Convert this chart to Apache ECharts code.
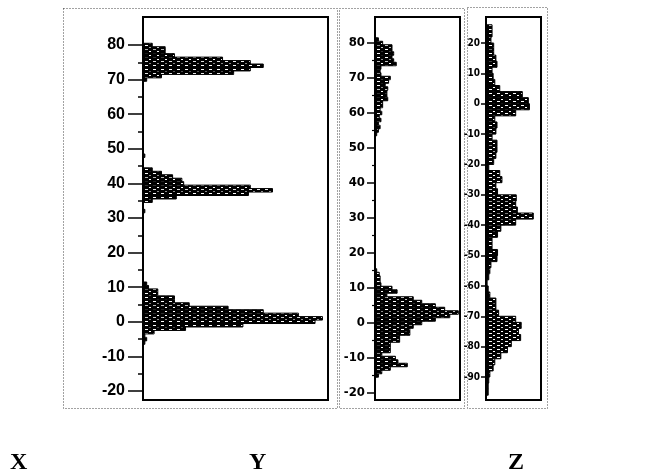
<!DOCTYPE html>
<html>
<head>
<meta charset="utf-8">
<script src="https://cdn.jsdelivr.net/npm/echarts@6/dist/echarts.min.js"></script>
<style>
html, body { margin: 0; padding: 0; background: #fff; }
#chart { width: 645px; height: 474px; }
</style>
</head>
<body>
<div id="chart"></div>
<script>
// Histogram of X (bin width 1): bin centres and counts
const xBinWidth = 1;
const xCenters = [-6, -5, -4, -3, -2, -1, 0, 1, 2, 3, 4, 5, 6, 7, 8, 9, 10, 11,
  32, 35, 36, 37, 38, 39, 40, 41, 42, 43, 44, 48,
  70, 71, 72, 73, 74, 75, 76, 77, 78, 79, 80];
const xCounts = [1, 2, 1, 6, 23, 54, 93, 97, 84, 65, 46, 25, 17, 17, 8, 8, 3, 2,
  1, 5, 18, 57, 70, 58, 22, 21, 16, 10, 5, 1,
  2, 10, 49, 58, 65, 58, 43, 17, 12, 12, 5];

// Histogram of Y (bin width 1)
const yBinWidth = 1;
const yCenters = [-15, -14, -13, -12, -11, -10, -9, -8, -7, -6, -5, -4, -3, -2, -1, 0, 1, 2, 3, 4, 5, 6, 7, 8, 9, 10, 11, 12, 13, 14, 15,
  54, 55, 56, 57, 58, 59, 60, 61, 62, 63, 64, 65, 66, 67, 68, 69, 70, 71, 72, 73, 74, 75, 76, 77, 78, 79, 80, 81];
const yCounts = [4, 8, 18, 38, 27, 24, 8, 18, 18, 18, 29, 29, 41, 41, 45, 55, 71, 88, 98, 82, 71, 55, 45, 14, 26, 20, 7, 6, 6, 5, 2,
  2, 4, 6, 4, 7, 5, 8, 6, 9, 9, 15, 14, 14, 15, 12, 16, 18, 7, 6, 7, 25, 22, 20, 22, 20, 20, 9, 4];

// Histogram of Z (bin width 2)
const zBinWidth = 2;
const zCenters = [25, 23, 21, 19, 17, 15, 13, 11, 9, 7, 5, 3, 1, -1, -3, -5, -7, -9, -11, -13, -15, -17, -19, -21, -23, -25, -27, -29,
  -31, -33, -35, -37, -39, -41, -43, -45, -47, -49, -51, -53, -55, -57, -59, -61, -63, -65, -67, -69, -71, -73, -75, -77, -79,
  -81, -83, -85, -87, -89, -91, -93, -95];
const zCounts = [11, 11, 9, 14, 14, 18, 20, 11, 13, 16, 25, 66, 77, 79, 54, 16, 20, 18, 11, 20, 20, 18, 14, 5, 25, 29, 18, 21,
  55, 54, 57, 86, 54, 27, 21, 11, 11, 21, 20, 9, 7, 5, 2, 4, 7, 18, 18, 23, 54, 64, 59, 63, 46,
  39, 27, 16, 13, 7, 5, 4, 4];

// Axis ranges and panel names
const xRange = [-20, 80];
const yRange = [-20, 80];
const zRange = [-90, 20];
const panelNames = ['X', 'Y', 'Z'];

function toBins(centers, counts, width) {
  return centers.map((c, i) => [c - width / 2, c + width / 2, counts[i]]);
}

// Dark speckled fill used for the bars
const tile = document.createElement('canvas');
tile.width = 8; tile.height = 4;
(function () {
  const g = tile.getContext('2d');
  g.fillStyle = '#000';
  g.fillRect(0, 0, 8, 4);
  g.fillStyle = '#fff';
  g.fillRect(1, 1, 3, 1);
  g.fillRect(5, 3, 2, 1);
})();
const barFill = { image: tile, repeat: 'repeat' };

function renderBar(params, api) {
  const lo = api.value(0), hi = api.value(1), n = api.value(2);
  const a = api.coord([0, hi]);
  const b = api.coord([n, lo]);
  return {
    type: 'rect',
    shape: { x: a[0], y: a[1], width: b[0] - a[0], height: b[1] - a[1] },
    style: { fill: barFill, stroke: '#000', lineWidth: 1 }
  };
}

function histSeries(idx, bins) {
  return {
    type: 'custom',
    xAxisIndex: idx,
    yAxisIndex: idx,
    clip: false,
    renderItem: renderBar,
    encode: { x: 2, y: [0, 1] },
    data: bins
  };
}

const labelBase = { color: '#000', fontWeight: 'bold' };
const condensed = '"DejaVu Sans Condensed", "Liberation Sans Narrow", sans-serif';

const chart = echarts.init(document.getElementById('chart'), null, { renderer: 'canvas' });
chart.setOption({
  animation: false,
  backgroundColor: '#fff',
  grid: [
    { left: 143, top: 45, width: 185, height: 346 },
    { left: 375, top: 43, width: 85, height: 350 },
    { left: 486, top: 43, width: 55, height: 334 }
  ],
  xAxis: [0, 1, 2].map(i => ({ type: 'value', gridIndex: i, min: 0, max: 100, show: false })),
  yAxis: [
    {
      type: 'value', gridIndex: 0, min: xRange[0], max: xRange[1], interval: 10,
      axisLine: { show: false },
      axisTick: { show: true, length: 15, lineStyle: { color: '#000', width: 1.5 } },
      minorTick: { show: true, splitNumber: 2, length: 5, lineStyle: { color: '#000', width: 1.5 } },
      splitLine: { show: false },
      axisLabel: Object.assign({ fontSize: 16, fontFamily: '"Liberation Sans", Arial, sans-serif', margin: 18 }, labelBase)
    },
    {
      type: 'value', gridIndex: 1, min: yRange[0], max: yRange[1], interval: 10,
      axisLine: { show: false },
      axisTick: { show: true, length: 8, lineStyle: { color: '#000', width: 1.5 } },
      minorTick: { show: true, splitNumber: 2, length: 3, lineStyle: { color: '#000', width: 1.2 } },
      splitLine: { show: false },
      axisLabel: Object.assign({ fontSize: 13, fontFamily: condensed, margin: 10 }, labelBase)
    },
    {
      type: 'value', gridIndex: 2, min: zRange[0], max: zRange[1], interval: 10,
      axisLine: { show: false },
      axisTick: { show: true, length: 5, lineStyle: { color: '#000', width: 1.5 } },
      splitLine: { show: false },
      axisLabel: Object.assign({ fontSize: 10, fontFamily: condensed, margin: 6 }, labelBase)
    }
  ],
  series: [
    histSeries(0, toBins(xCenters, xCounts, xBinWidth)),
    histSeries(1, toBins(yCenters, yCounts, yBinWidth)),
    histSeries(2, toBins(zCenters, zCounts, zBinWidth))
  ],
  graphic: [
    // dotted panel outlines
    { type: 'rect', shape: { x: 63.5, y: 8.5, width: 274, height: 400 }, style: { fill: 'none', stroke: '#444', lineWidth: 1, lineDash: [1, 2] }, silent: true },
    { type: 'rect', shape: { x: 339.5, y: 8.5, width: 125, height: 400 }, style: { fill: 'none', stroke: '#444', lineWidth: 1, lineDash: [1, 2] }, silent: true },
    { type: 'rect', shape: { x: 467.5, y: 7.5, width: 80, height: 401 }, style: { fill: 'none', stroke: '#444', lineWidth: 1, lineDash: [1, 2] }, silent: true },
    // plot frames
    { type: 'rect', shape: { x: 143, y: 17, width: 185, height: 383 }, style: { fill: 'none', stroke: '#000', lineWidth: 2 }, silent: true, z: 10 },
    { type: 'rect', shape: { x: 375, y: 17, width: 85, height: 383 }, style: { fill: 'none', stroke: '#000', lineWidth: 2 }, silent: true, z: 10 },
    { type: 'rect', shape: { x: 486, y: 17, width: 55, height: 383 }, style: { fill: 'none', stroke: '#000', lineWidth: 2 }, silent: true, z: 10 },
    // panel names
    { type: 'text', left: 10, top: 451, style: { text: panelNames[0], font: 'bold 24px "Liberation Serif", "Times New Roman", serif', fill: '#000' } },
    { type: 'text', left: 249, top: 451, style: { text: panelNames[1], font: 'bold 24px "Liberation Serif", "Times New Roman", serif', fill: '#000' } },
    { type: 'text', left: 508, top: 451, style: { text: panelNames[2], font: 'bold 24px "Liberation Serif", "Times New Roman", serif', fill: '#000' } }
  ]
});
</script>
</body>
</html>
